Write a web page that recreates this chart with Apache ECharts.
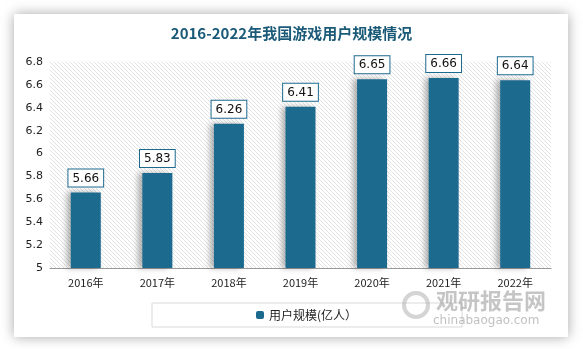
<!DOCTYPE html>
<html><head><meta charset="utf-8">
<script src="https://cdn.jsdelivr.net/npm/echarts@6/dist/echarts.min.js"></script>
<style>html,body{margin:0;padding:0;background:#fff}#c{width:583px;height:349px}</style>
</head><body><div id="c"></div>
<script>
const categories = ['2016年','2017年','2018年','2019年','2020年','2021年','2022年'];
const users = [5.66, 5.83, 6.26, 6.41, 6.65, 6.66, 6.64];
const seriesName = '用户规模(亿人）';
const titleText = '2016-2022年我国游戏用户规模情况';

const pc = document.createElement('canvas');
pc.width = 4; pc.height = 4;
const ctx = pc.getContext('2d');
ctx.fillStyle = '#ffffff'; ctx.fillRect(0,0,4,4);
ctx.strokeStyle = '#e2e2e2'; ctx.lineWidth = 1;
ctx.beginPath(); ctx.moveTo(-1,-1); ctx.lineTo(5,5); ctx.moveTo(-1,3); ctx.lineTo(1,5); ctx.moveTo(3,-1); ctx.lineTo(5,1); ctx.stroke();

const chart = echarts.init(document.getElementById('c'));
chart.setOption({
  backgroundColor: '#ffffff',
  graphic: [
    {type:'rect', z:-10, shape:{x:14,y:14,width:554,height:323}, style:{fill:'#fff', shadowBlur:12, shadowColor:'rgba(0,0,0,0.35)'}},
    {type:'text', z:10, left:436, top:290, style:{text:'观研报告网', fill:'rgba(150,150,150,0.55)', font:'bold 22px "Noto Sans CJK SC"'}},
    {type:'text', z:10, left:433, top:315, style:{text:'chinabaogao.com', fill:'rgba(150,150,150,0.6)', font:'12px "DejaVu Sans"'}},
    {type:'circle', z:10, shape:{cx:416,cy:305,r:12}, style:{fill:'none', stroke:'rgba(170,170,170,0.5)', lineWidth:4}}
  ],
  title: {text: titleText, left: 'center', top: 21,
    textStyle:{color:'#1a5a78', fontSize:15, fontWeight:'bold', fontFamily:'"Noto Sans CJK SC"'}},
  grid: {left:50, right:32, top:62, bottom:81, show:true, borderWidth:0,
    backgroundColor:{image: pc, repeat:'repeat'}},
  legend: {data:[seriesName], left:152, top:303, itemWidth:8, itemHeight:8, itemGap:5,
    padding:[6,105,6,104], borderColor:'#d9d9d9', borderWidth:1,
    textStyle:{color:'#222', fontSize:12, fontFamily:'"Noto Sans CJK SC"'}},
  xAxis: {type:'category', data:categories,
    axisLine:{lineStyle:{color:'#999'}}, axisTick:{show:false},
    axisLabel:{color:'#222', fontSize:11, margin:9, fontFamily:'"Noto Sans CJK SC"'}},
  yAxis: {type:'value', min:5, max:6.8, interval:0.2,
    axisLine:{show:false}, axisTick:{show:false}, splitLine:{show:false},
    axisLabel:{color:'#222', fontSize:11, margin:7, fontFamily:'"DejaVu Sans"',
      formatter: v => String(Math.round(v*10)/10)}},
  series: [{name:seriesName, type:'bar', data:users, barWidth:30,
    itemStyle:{color:'#1d6a8f', shadowBlur:6, shadowOffsetX:-4, shadowOffsetY:0, shadowColor:'rgba(0,0,0,0.3)'},
    label:{show:true, position:'top', distance:6, color:'#111', fontSize:12, fontFamily:'"DejaVu Sans"',
      backgroundColor:'#fff', borderColor:'#1d6a8f', borderWidth:1, padding:[3,4,2,4],
      formatter: p => p.value.toFixed(2)}}]
});
</script></body></html>
